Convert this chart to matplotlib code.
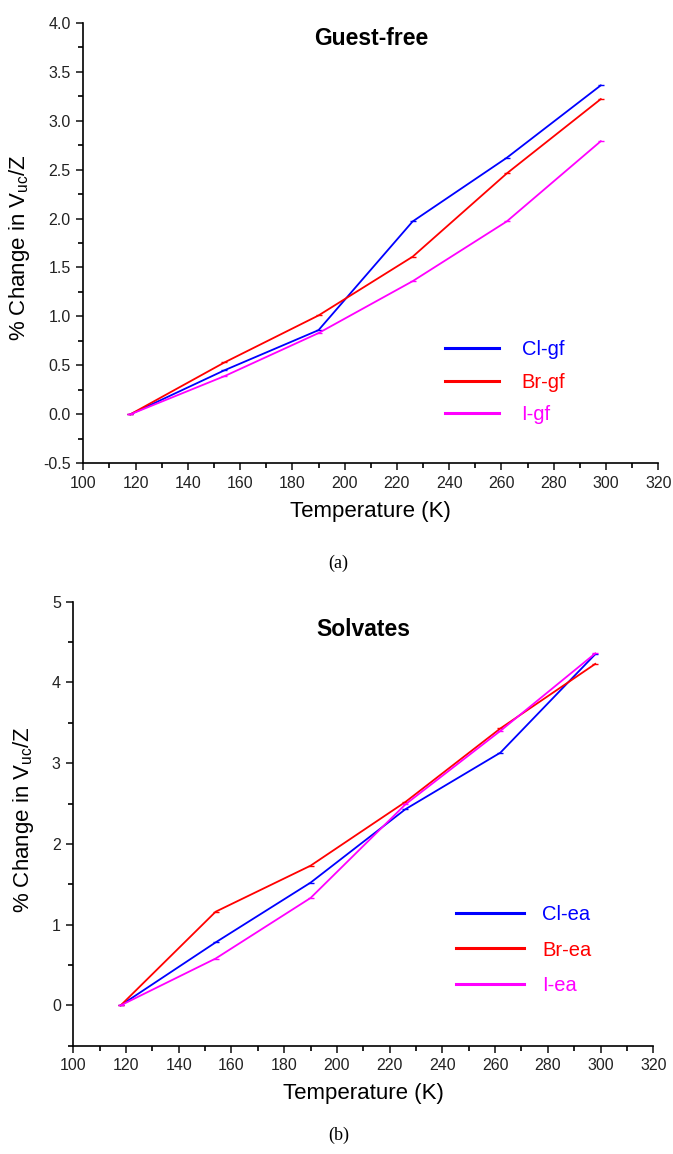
import matplotlib
matplotlib.use("Agg")
import matplotlib.pyplot as plt
from matplotlib.ticker import MultipleLocator, FormatStrFormatter

plt.rcParams['font.family'] = ['Liberation Sans', 'DejaVu Sans']
plt.rcParams['mathtext.fontset'] = 'custom'
plt.rcParams['mathtext.rm'] = 'Liberation Sans'

temps = [118, 154, 190, 226, 262, 298]

cl_gf = [0.0, 0.45, 0.86, 1.97, 2.62, 3.36]
br_gf = [0.0, 0.53, 1.01, 1.61, 2.46, 3.22]
i_gf = [0.0, 0.39, 0.83, 1.36, 1.97, 2.79]

cl_ea = [0.0, 0.78, 1.52, 2.43, 3.13, 4.35]
br_ea = [0.0, 1.16, 1.73, 2.52, 3.43, 4.23]
i_ea = [0.0, 0.58, 1.33, 2.49, 3.40, 4.36]

labels_gf = ['Cl-gf', 'Br-gf', 'I-gf']
labels_ea = ['Cl-ea', 'Br-ea', 'I-ea']
colors = ['#0000ff', '#ff0000', '#ff00ff']

W, H = 673, 1154
fig = plt.figure(figsize=(W / 100, H / 100), dpi=100)

ax1 = fig.add_axes([83.3 / W, 1 - 463.3 / H, 575 / W, 440.6 / H])
ax2 = fig.add_axes([73.3 / W, 1 - 1045.7 / H, 580 / W, 444 / H])


def style(ax, ylim, ymaj, ymin, fmt):
    ax.set_xlim(100, 320)
    ax.set_ylim(*ylim)
    for s in ['top', 'right']:
        ax.spines[s].set_visible(False)
    for s in ['left', 'bottom']:
        ax.spines[s].set_linewidth(1.2)
    ax.xaxis.set_major_locator(MultipleLocator(20))
    ax.xaxis.set_minor_locator(MultipleLocator(10))
    ax.yaxis.set_major_locator(MultipleLocator(ymaj))
    ax.yaxis.set_minor_locator(MultipleLocator(ymin))
    ax.tick_params(which='major', direction='out', length=5, width=1.2,
                   labelsize=11.5, colors='#222222', pad=4)
    ax.tick_params(which='minor', direction='out', length=3.5, width=1.2)
    ax.yaxis.set_major_formatter(FormatStrFormatter(fmt))
    ax.set_xlabel('Temperature (K)', fontsize=16, labelpad=7)
    ax.set_ylabel(r'% Change in V$_{\mathregular{uc}}$/Z', fontsize=16)


style(ax1, (-0.5, 4.0), 0.5, 0.25, '%.1f')
style(ax2, (-0.5, 5.0), 1, 0.5, '%d')

for vals, lab, c in zip([cl_gf, br_gf, i_gf], labels_gf, colors):
    ax1.plot(temps, vals, color=c, lw=1.3, marker='_', markersize=5, label=lab)
for vals, lab, c in zip([cl_ea, br_ea, i_ea], labels_ea, colors):
    ax2.plot(temps, vals, color=c, lw=1.3, marker='_', markersize=5, label=lab)

ax1.yaxis.set_label_coords(-0.089, 0.49)
ax2.yaxis.set_label_coords(-0.064, 0.51)

ax1.set_title('Guest-free', fontsize=16.5, fontweight='bold', x=0.5, y=0.93)
ax2.set_title('Solvates', fontsize=16.5, fontweight='bold', x=0.5, y=0.905)

for ax, anchor, hl, htp, ls in [(ax1, (0.629, 0.279), 2.7, 1.1, 0.66),
                                (ax2, (0.659, 0.316), 3.4, 0.9, 0.8)]:
    leg = ax.legend(loc='upper left', bbox_to_anchor=anchor, frameon=False,
                    fontsize=14.5, handlelength=hl, handletextpad=htp,
                    labelspacing=ls, borderpad=0, borderaxespad=0,
                    labelcolor='linecolor')
    for line in leg.get_lines():
        line.set_linewidth(2.2)
        line.set_marker('')

fig.text(338 / W, 1 - 563 / H, '(a)', fontsize=13, family='Liberation Serif',
         ha='center', va='center')
fig.text(339 / W, 1 - 1135 / H, '(b)', fontsize=13, family='Liberation Serif',
         ha='center', va='center')

fig.savefig('out.png', dpi=100)
